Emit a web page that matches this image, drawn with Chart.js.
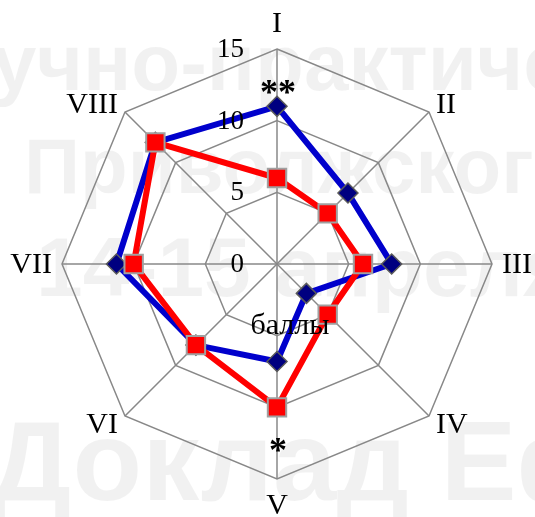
<!DOCTYPE html>
<html lang="ru">
<head>
    <meta charset="UTF-8">
    <title>Баллы по шкалам</title>
    <script src="https://cdn.jsdelivr.net/npm/chart.js"></script>
    <style>
        body {
            margin: 0;
            background-color: white;
        }

        .wrap {
            width: 535px;
            height: 517px;
        }
    </style>
</head>
<body>
    <div class="wrap"><canvas id="radarChart"></canvas></div>

    <script>
        const categories = ['I', 'II', 'III', 'IV', 'V', 'VI', 'VII', 'VIII'];
        const blueValues = [11, 7, 8, 2.9, 6.8, 8, 11.2, 12];
        const redValues = [6, 5, 6, 5, 10, 8, 10, 12];
        const tickValues = [0, 5, 10, 15];
        const marks = ['**', '', '', '', '*', '', '', ''];
        const markLevel = 12.5;
        const axisTitle = 'баллы';
        const watermarkLines = ['учно-практической', 'Приволжского', '14-15 апреля', 'Доклад Ефимова'];

        // faint watermark behind the chart, and hand-placed labels on top
        const textPlugin = {
            id: 'texts',
            beforeDraw(chart) {
                const ctx = chart.ctx;
                ctx.save();
                ctx.fillStyle = 'rgba(0, 0, 0, 0.055)';
                ctx.textAlign = 'left';
                ctx.textBaseline = 'alphabetic';
                ctx.font = 'bold 80px "Liberation Sans"';
                ctx.fillText(watermarkLines[0], -8, 90);
                ctx.font = 'bold 78px "Liberation Sans"';
                ctx.fillText(watermarkLines[1], 24, 193);
                ctx.font = 'bold 84px "Liberation Sans"';
                ctx.fillText(watermarkLines[2], 36, 296);
                ctx.font = 'bold 114px "Liberation Sans"';
                ctx.fillText(watermarkLines[3], -10, 500);
                ctx.restore();
            },
            afterDraw(chart) {
                const r = chart.scales.r;
                const ctx = chart.ctx;
                ctx.save();
                ctx.fillStyle = '#000';

                ctx.font = '30px "Liberation Serif"';
                ctx.textBaseline = 'middle';
                categories.forEach((c, i) => {
                    const p = r.getPointPosition(i, r.drawingArea);
                    const dx = p.x - r.xCenter;
                    const dy = p.y - r.yCenter;
                    let x = p.x, y = p.y;
                    if (Math.abs(dx) < 1) {
                        ctx.textAlign = 'center';
                        y += Math.sign(dy) * 26;
                    } else {
                        ctx.textAlign = dx > 0 ? 'left' : 'right';
                        if (Math.abs(dy) < 1) {
                            x += Math.sign(dx) * 10;
                        } else {
                            x += Math.sign(dx) * 7;
                            y += Math.sign(dy) * 8;
                        }
                    }
                    ctx.fillText(c, x, y + 1);
                });

                ctx.font = '27px "Liberation Serif"';
                ctx.textAlign = 'right';
                tickValues.forEach(v => {
                    const d = r.getDistanceFromCenterForValue(v);
                    ctx.fillText(String(v), r.xCenter - 33, r.yCenter - d + 1);
                });

                ctx.font = '30px "Liberation Serif"';
                ctx.textAlign = 'center';
                ctx.fillText(axisTitle, r.xCenter + 13, r.yCenter + 62);

                ctx.font = 'bold 36px "Liberation Serif"';
                ctx.textBaseline = 'alphabetic';
                const d = r.getDistanceFromCenterForValue(markLevel);
                marks.forEach((m, i) => {
                    if (!m) return;
                    const p = r.getPointPosition(i, d);
                    ctx.fillText(m, p.x + 1, p.y + 19);
                });
                ctx.restore();
            }
        };

        const ctx = document.getElementById('radarChart').getContext('2d');
        new Chart(ctx, {
            type: 'radar',
            data: {
                labels: categories,
                datasets: [
                    {
                        label: 'blue',
                        data: blueValues,
                        order: 1,
                        borderColor: '#0000cc',
                        borderWidth: 6,
                        fill: false,
                        pointStyle: 'rectRot',
                        pointRadius: 10,
                        pointBackgroundColor: '#000080',
                        pointBorderColor: '#5a5a5a',
                        pointBorderWidth: 1.5
                    },
                    {
                        label: 'red',
                        data: redValues,
                        order: 0,
                        borderColor: '#ff0000',
                        borderWidth: 6,
                        fill: false,
                        pointStyle: 'rect',
                        pointRadius: 13,
                        pointBackgroundColor: '#ff0000',
                        pointBorderColor: '#a0a0a0',
                        pointBorderWidth: 2
                    }
                ]
            },
            options: {
                responsive: true,
                maintainAspectRatio: false,
                animation: false,
                layout: {
                    padding: { left: 62, right: 43, top: 49, bottom: 38 }
                },
                elements: {
                    line: { tension: 0 }
                },
                plugins: {
                    legend: { display: false },
                    tooltip: { enabled: false }
                },
                scales: {
                    r: {
                        min: 0,
                        max: 15,
                        ticks: { stepSize: 5, display: false },
                        pointLabels: { display: false },
                        grid: { color: '#888', lineWidth: 1.5 },
                        angleLines: { color: '#888', lineWidth: 1.5 }
                    }
                }
            },
            plugins: [textPlugin]
        });
    </script>
</body>
</html>
